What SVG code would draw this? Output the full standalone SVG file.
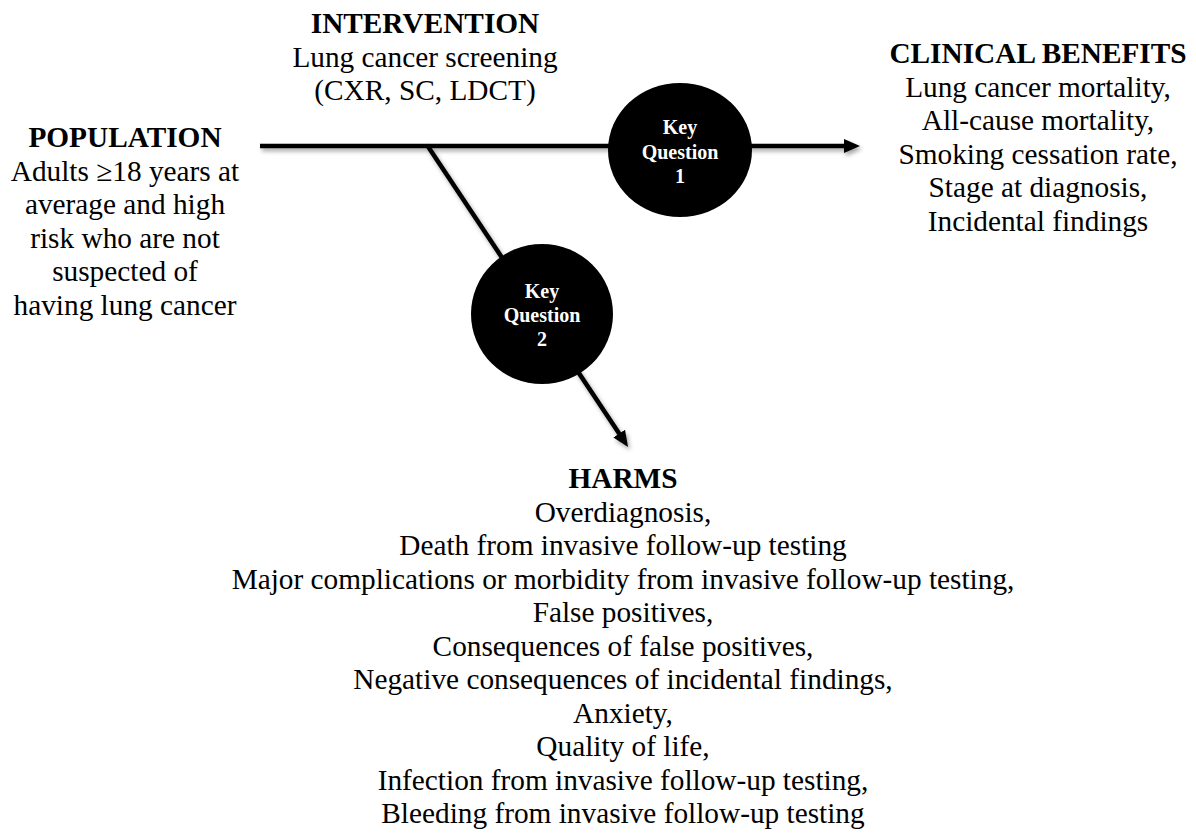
<svg xmlns="http://www.w3.org/2000/svg" width="1196" height="834" viewBox="0 0 1196 834">
<defs>
<style>
.t{font-family:"Liberation Serif","Times New Roman",serif;font-size:29.3px;fill:#000;text-anchor:middle}
.h{font-weight:bold}
.k{font-family:"Liberation Serif","Times New Roman",serif;font-size:20px;font-weight:bold;fill:#fff;text-anchor:middle}
.ln{stroke:#000;stroke-width:4.5;fill:none}
.kq{fill:#000}
</style>
<filter id="sh" x="-20%" y="-20%" width="140%" height="140%">
<feDropShadow dx="2" dy="3" stdDeviation="2" flood-color="#000" flood-opacity="0.35"/>
</filter>
<marker id="ah" markerUnits="userSpaceOnUse" markerWidth="18" markerHeight="16" refX="2" refY="7" orient="auto">
<path d="M0,0 L16,7 L0,14 z" fill="#000"/>
</marker>
</defs>
<rect width="1196" height="834" fill="#fff"/>
<g id="connectors" filter="url(#sh)">
<line class="ln" x1="260" y1="146" x2="846" y2="146" marker-end="url(#ah)"/>
<line class="ln" x1="427" y1="145" x2="620.3" y2="435.3" marker-end="url(#ah)"/>
</g>
<g id="population">
<text class="t h" x="125" y="147">POPULATION</text>
<text class="t" x="125" y="180.5">Adults ≥18 years at</text>
<text class="t" x="125" y="214">average and high</text>
<text class="t" x="125" y="247.5">risk who are not</text>
<text class="t" x="125" y="281">suspected of</text>
<text class="t" x="125" y="314.5">having lung cancer</text>
</g>
<g id="intervention">
<text class="t h" x="425" y="33">INTERVENTION</text>
<text class="t" x="425" y="66.5">Lung cancer screening</text>
<text class="t" x="425" y="100">(CXR, SC, LDCT)</text>
</g>
<g id="benefits">
<text class="t h" x="1038" y="63">CLINICAL BENEFITS</text>
<text class="t" x="1038" y="96.5">Lung cancer mortality,</text>
<text class="t" x="1038" y="130">All-cause mortality,</text>
<text class="t" x="1038" y="163.5">Smoking cessation rate,</text>
<text class="t" x="1038" y="197">Stage at diagnosis,</text>
<text class="t" x="1038" y="230.5">Incidental findings</text>
</g>
<g id="kq1">
<ellipse class="kq" cx="680" cy="150" rx="72" ry="67"/>
<text class="k" x="680" y="134">Key</text>
<text class="k" x="680" y="159">Question</text>
<text class="k" x="680" y="183">1</text>
</g>
<g id="kq2">
<ellipse class="kq" cx="542" cy="314" rx="71" ry="70"/>
<text class="k" x="542" y="298">Key</text>
<text class="k" x="542" y="322">Question</text>
<text class="k" x="542" y="346">2</text>
</g>
<g id="harms">
<text class="t h" x="623" y="488">HARMS</text>
<text class="t" x="623" y="521.5">Overdiagnosis,</text>
<text class="t" x="623" y="555">Death from invasive follow-up testing</text>
<text class="t" x="623" y="588.5">Major complications or morbidity from invasive follow-up testing,</text>
<text class="t" x="623" y="622">False positives,</text>
<text class="t" x="623" y="655.5">Consequences of false positives,</text>
<text class="t" x="623" y="689">Negative consequences of incidental findings,</text>
<text class="t" x="623" y="722.5">Anxiety,</text>
<text class="t" x="623" y="756">Quality of life,</text>
<text class="t" x="623" y="789.5">Infection from invasive follow-up testing,</text>
<text class="t" x="623" y="823">Bleeding from invasive follow-up testing</text>
</g>
</svg>
